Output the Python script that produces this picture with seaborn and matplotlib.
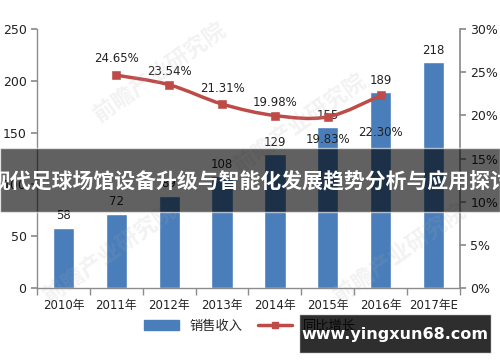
import matplotlib
matplotlib.use("Agg")
import matplotlib.pyplot as plt
from matplotlib.lines import Line2D
from matplotlib.patches import Patch, Rectangle
from matplotlib.path import Path as MPath
from matplotlib.patches import PathPatch
import numpy as np
import pandas as pd
import seaborn as sns

years = ["2010年", "2011年", "2012年", "2013年", "2014年", "2015年", "2016年", "2017年E"]
revenue = [58, 72, 89, 108, 129, 155, 189, 218]
growth_years = ["2011年", "2012年", "2013年", "2014年", "2015年", "2016年"]
growth = [24.65, 23.54, 21.31, 19.98, 19.83, 22.30]

TITLE = "现代足球场馆设备升级与智能化发展趋势分析与应用探讨"
SITE = "www.yingxun68.com"

BLUE = "#4A7EBB"
RED = "#BE4B48"
GRAY = "#8C8C8C"

sns.set_theme(style="white")
plt.rcParams["font.family"] = ["DejaVu Sans", "Noto Sans CJK SC"]
plt.rcParams["axes.unicode_minus"] = False

fig = plt.figure(figsize=(5, 3.62), dpi=100)
ax = fig.add_axes([0.074, 0.204, 0.846, 0.716])

df = pd.DataFrame({"year": years, "revenue": revenue})
sns.barplot(data=df, x="year", y="revenue", color=BLUE, width=0.4, ax=ax, saturation=1)
for c in ax.containers:
    ax.bar_label(c, fmt="%d", padding=4, fontsize=8.5, color="#222222")

ax.set_ylim(0, 250)
ax.set_xlim(-0.5, len(years) - 0.5)
ax.set_yticks([0, 50, 100, 150, 200, 250])
ax.set_xlabel("")
ax.set_ylabel("")
ax.tick_params(axis="y", labelsize=9, colors="#222222", length=4, left=True, color=GRAY)
ax.tick_params(axis="x", labelsize=8.5, colors="#222222", length=0, pad=8)
ax.set_xticks(np.arange(-0.5, len(years)), minor=True)
ax.tick_params(axis="x", which="minor", length=5, bottom=True, color=GRAY)
for side in ["top", "right"]:
    ax.spines[side].set_visible(False)
for side in ["left", "bottom"]:
    ax.spines[side].set_color(GRAY)
    ax.spines[side].set_linewidth(1)

ax2 = ax.twinx()
ax2.set_ylim(0, 30)
ax2.set_yticks([0, 5, 10, 15, 20, 25, 30])
ax2.set_yticklabels([f"{v}%" for v in range(0, 35, 5)])
ax2.tick_params(axis="y", labelsize=9, colors="#222222", length=4, right=True, color=GRAY)
for side in ["top", "left", "bottom"]:
    ax2.spines[side].set_visible(False)
ax2.spines["right"].set_color(GRAY)
ax2.grid(False)

# smoothed line (Catmull-Rom as cubic bezier) through the data points
gx = np.array([years.index(y) for y in growth_years], dtype=float)
gy = np.array(growth, dtype=float)
verts = [(gx[0], gy[0])]
codes = [MPath.MOVETO]
for i in range(len(gx) - 1):
    p0 = (gx[max(i - 1, 0)], gy[max(i - 1, 0)])
    p1 = (gx[i], gy[i])
    p2 = (gx[i + 1], gy[i + 1])
    p3 = (gx[min(i + 2, len(gx) - 1)], gy[min(i + 2, len(gx) - 1)])
    c1 = (p1[0] + (p2[0] - p0[0]) / 6, p1[1] + (p2[1] - p0[1]) / 6)
    c2 = (p2[0] - (p3[0] - p1[0]) / 6, p2[1] - (p3[1] - p1[1]) / 6)
    verts += [c1, c2, p2]
    codes += [MPath.CURVE4] * 3
ax2.add_patch(PathPatch(MPath(verts, codes), fill=False, edgecolor=RED, lw=2.5, zorder=3))
gdf = pd.DataFrame({"x": gx, "g": gy})
sns.scatterplot(data=gdf, x="x", y="g", marker="s", s=28, color=RED, edgecolor=RED, ax=ax2, zorder=4)
ax2.set_xlabel("")
ax2.set_ylabel("")

label_offsets = [17, 13, 16, 13, -23, -37]
for x, v, off in zip(gx, gy, label_offsets):
    ax2.annotate(f"{v:.2f}%", (x, v), xytext=(0, off), textcoords="offset pixels",
                 ha="center", va="center", fontsize=8.5, color="#222222")

# faint watermarks
for (wx, wy) in [(0.32, 0.8), (0.6, 0.66), (0.22, 0.3), (0.8, 0.3)]:
    fig.text(wx, wy, "前瞻产业研究院", fontsize=16, color="#AAAAAA", alpha=0.15,
             rotation=35, ha="center", va="center", fontweight="bold",
             family=["Noto Sans CJK SC"], zorder=0)

handles = [
    Patch(facecolor=BLUE, edgecolor=BLUE),
    Line2D([0], [0], color=RED, lw=2.5, marker="s", markersize=5),
]
fig.legend(handles, ["销售收入", "同比增长"], loc="center", bbox_to_anchor=(0.5, 0.099),
           ncol=2, frameon=False, handlelength=2.6, columnspacing=1.2,
           prop={"family": ["Noto Sans CJK SC"], "size": 9.5})

# title banner
fig.patches.append(Rectangle((0, 0.414), 1, 0.177, transform=fig.transFigure,
                             facecolor="black", alpha=0.62, zorder=10))
fig.text(0.5, 0.497, TITLE, ha="center", va="center", color="white", fontsize=15,
         fontweight="bold", family=["Noto Sans CJK SC"], zorder=11)

# site box
fig.patches.append(Rectangle((0.598, 1 - 353 / 362), 0.384, 39 / 362, transform=fig.transFigure,
                             facecolor="black", alpha=0.82, zorder=10))
fig.text(0.79, 1 - 335 / 362, SITE, ha="center", va="center", color="white", fontsize=11.5,
         fontweight="bold", zorder=11)

fig.savefig("out.png", dpi=100)
